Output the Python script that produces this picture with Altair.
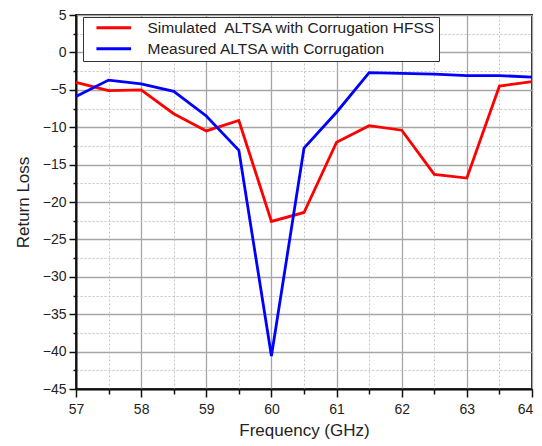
import altair as alt
import pandas as pd

freq = [57.0, 57.5, 58.0, 58.5, 59.0, 59.5, 60.0, 60.5, 61.0, 61.5, 62.0, 62.5, 63.0, 63.5, 64.0]
simulated = [-4.0, -5.1, -5.0, -8.2, -10.5, -9.1, -22.6, -21.4, -12.0, -9.8, -10.4, -16.3, -16.8, -4.5, -3.9]
measured = [-5.9, -3.7, -4.2, -5.2, -8.5, -13.1, -40.6, -12.8, -8.0, -2.7, -2.8, -2.9, -3.1, -3.1, -3.3]
series_names = ["Simulated\u00a0 ALTSA with Corrugation HFSS", "Measured ALTSA with Corrugation"]
series_colors = ["#ff0000", "#0000ff"]

x_ticks = [57 + 0.5 * i for i in range(15)]
y_ticks = [-45 + 2.5 * i for i in range(21)]

df = pd.concat([
    pd.DataFrame({"freq": freq, "rl": simulated, "series": series_names[0], "ord": 0}),
    pd.DataFrame({"freq": freq, "rl": measured, "series": series_names[1], "ord": 1}),
])

font = "Liberation Sans"

x_minor = "datum.value % 1 !== 0"
y_minor = "datum.value % 5 !== 0"

x_axis = alt.Axis(
    values=x_ticks,
    title="Frequency (GHz)",
    labelExpr="datum.value % 1 === 0 ? format(datum.value, 'd') : ''",
    labelFlush=False,
    labelOffset={"condition": {"test": "datum.value === 64", "value": -7}, "value": 0},
    gridDash={"condition": {"test": x_minor, "value": [2, 2]}, "value": []},
    gridColor={"condition": {"test": x_minor, "value": "#c4c4c4"}, "value": "#a6a6a6"},
    gridWidth={"condition": {"test": x_minor, "value": 1}, "value": 1.3},
    tickSize={"condition": {"test": x_minor, "value": 5}, "value": 8},
    titlePadding=6,
    labelPadding=5,
)
y_axis = alt.Axis(
    values=y_ticks,
    title="Return Loss",
    labelExpr="datum.value % 5 === 0 ? format(datum.value, 'd') : ''",
    labelFlush=False,
    gridDash={"condition": {"test": y_minor, "value": [2, 2]}, "value": []},
    gridColor={"condition": {"test": y_minor, "value": "#c4c4c4"}, "value": "#a6a6a6"},
    gridWidth={"condition": {"test": y_minor, "value": 1}, "value": 1.3},
    tickSize={"condition": {"test": y_minor, "value": 3}, "value": 7},
    titlePadding=10,
    labelPadding=3,
)

chart = alt.Chart(df).mark_line(strokeWidth=2.8).encode(
    x=alt.X("freq:Q", scale=alt.Scale(domain=[57, 64], nice=False, zero=False), axis=x_axis),
    y=alt.Y("rl:Q", scale=alt.Scale(domain=[-45, 5], nice=False, zero=False), axis=y_axis),
    color=alt.Color(
        "series:N",
        scale=alt.Scale(domain=series_names, range=series_colors),
        legend=alt.Legend(
            title=None,
            orient="none",
            legendX=7,
            legendY=2,
            symbolType="M-4,0H4",
            symbolSize=75,
            symbolStrokeWidth=3,
            symbolOffset=20,
            labelOffset=26,
            labelFontSize=15.5,
            labelFont=font,
            labelColor="#222222",
            labelLimit=400,
            labelExpr="datum.label + '\u00a0\u00a0\u00a0'",
            rowPadding=4,
            padding=3,
            strokeColor="#333333",
            fillColor="white",
            cornerRadius=0,
        ),
    ),
    order="ord:Q",
).properties(
    width=456,
    height=374,
    autosize=alt.AutoSizeParams(type="none"),
    padding={"left": 68, "top": 7, "right": 2, "bottom": 51},
).configure_view(
    stroke="#111111",
    strokeWidth=1.8,
).configure_axis(
    domainColor="#111111",
    domainWidth=2,
    tickColor="#111111",
    tickWidth=1.5,
    labelFont=font,
    labelFontSize=14,
    labelColor="#222222",
    titleFont=font,
    titleFontSize=17,
    titleFontWeight="normal",
    titleColor="#222222",
)

chart.save("out.html", embed_options={"renderer": "svg", "actions": False})
